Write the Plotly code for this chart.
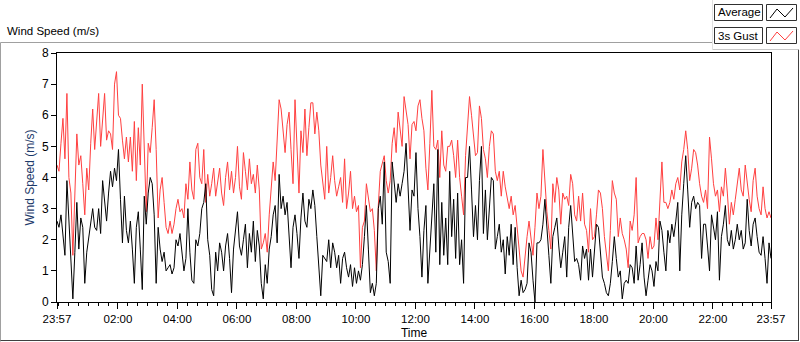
import plotly.graph_objects as go

# ---- data ----
START_MIN = -3      # 23:57 of previous day, in minutes from midnight
STEP_MIN = 4        # sampling step of the values below

gust_speed = [
    4.4, 4.2, 5.1, 5.9, 4.6, 6.7, 4.0, 3.5, 1.5, 3.2,
    5.4, 4.4, 4.7, 3.8, 2.8, 4.3, 3.6, 5.1, 6.2, 4.9,
    5.7, 6.7, 5.0, 6.0, 6.7, 5.2, 5.5, 5.4, 4.9, 7.0,
    7.4, 6.0, 5.9, 5.2, 4.6, 5.3, 4.5, 5.3, 4.2, 5.8,
    3.9, 5.6, 4.4, 7.0, 4.9, 2.9, 5.1, 4.8, 5.6, 6.5,
    4.9, 2.7, 3.6, 4.0, 3.2, 2.4, 2.2, 2.6, 2.2, 2.5,
    3.0, 3.3, 2.9, 3.0, 2.7, 3.8, 3.3, 4.5, 3.6, 3.3,
    4.9, 5.1, 4.0, 3.8, 4.9, 3.2, 4.1, 3.4, 3.8, 4.3,
    3.4, 3.9, 4.3, 3.5, 3.1, 4.0, 4.5, 3.6, 4.2, 3.5,
    4.0, 5.0, 3.7, 3.3, 4.8, 4.2, 3.6, 4.6, 3.8, 4.1,
    3.5, 4.4, 3.6, 1.7, 1.9, 2.2, 1.6, 2.8, 3.7, 4.5,
    3.9, 5.3, 6.5, 6.2, 5.4, 4.8, 5.7, 6.1, 4.9, 3.8,
    6.5, 5.1, 3.5, 5.5, 4.8, 6.2, 4.7, 5.6, 6.4, 6.4,
    5.4, 6.1, 5.5, 4.4, 3.8, 3.3, 5.0, 3.5, 4.0, 4.7,
    3.9, 3.4, 3.7, 4.0, 3.2, 4.6, 3.0, 3.5, 4.2, 3.0,
    3.4, 2.9, 3.1, 1.1, 2.4, 2.6, 3.8, 3.4, 2.9, 3.0,
    2.3, 1.0, 3.1, 4.2, 4.5, 4.7, 3.9, 3.5, 3.9, 5.1,
    5.6, 4.8, 6.1, 5.5, 5.0, 6.6, 6.1, 5.7, 4.6, 5.7,
    5.8, 5.5, 6.3, 6.5, 5.9, 5.5, 4.3, 3.6, 5.1, 6.8,
    5.0, 4.9, 5.2, 4.0, 5.5, 4.4, 4.2, 5.0, 5.0, 5.2,
    4.7, 4.0, 5.2, 4.0, 3.4, 2.8, 4.7, 5.6, 6.6, 6.0,
    5.3, 4.7, 4.8, 6.3, 5.9, 4.9, 4.6, 4.0, 5.0, 5.5,
    5.4, 4.2, 3.9, 4.2, 3.4, 4.2, 3.7, 3.4, 3.0, 3.4,
    2.8, 3.1, 2.3, 1.5, 1.0, 0.8, 1.5, 2.1, 2.6, 2.0,
    1.5,
    2.4, 3.5, 3.0, 3.4, 4.9, 3.9, 2.9, 2.3, 1.7, 3.8,
    3.2, 4.0, 3.6, 2.5, 3.5, 3.3, 3.4, 3.1, 4.1, 3.8,
    2.8, 2.6, 3.4, 2.6, 3.5, 2.5, 2.3, 1.6, 3.0, 2.0,
    2.1, 2.8, 3.6, 3.5, 3.0, 2.1, 1.5, 1.0, 2.3, 3.9,
    3.5, 3.3, 2.1, 2.7, 2.2, 2.0, 1.7, 1.1, 2.6, 2.3,
    2.8, 4.0, 1.9, 2.1, 2.2, 2.2, 2.0, 1.4, 2.1, 1.7,
    1.8, 2.7, 2.0, 3.3, 4.5, 3.2, 3.2, 3.0, 3.2, 3.6,
    3.3, 3.8, 4.0, 3.6, 4.5, 4.9, 5.5, 4.9, 3.9, 4.3,
    4.9, 4.8, 4.4, 3.8, 3.4, 3.2, 3.6, 3.0, 5.3, 4.6,
    3.8, 3.4, 3.6, 2.9, 3.7, 3.4, 4.3, 3.5, 2.5, 3.2,
    2.8, 3.3, 3.9, 4.3, 3.6, 3.4, 4.4, 3.8, 3.3, 2.9,
    3.9, 4.3, 3.4, 3.0, 2.8, 3.7, 3.0, 2.7, 2.9, 2.7,
]

avg_speed = [
    2.6, 2.4, 2.8, 2.2, 1.5, 3.9, 2.7, 1.2, 0.1, 1.6,
    3.2, 1.7, 2.7, 2.4, 0.6, 1.6, 2.1, 2.6, 3.0, 2.4,
    2.3, 3.0, 2.2, 3.9, 3.2, 2.6, 3.5, 4.2, 3.7, 4.3,
    3.9, 4.9, 3.3, 1.9, 3.4, 2.3, 1.9, 2.6, 1.7, 0.6,
    2.4, 2.9, 1.7, 0.4, 3.4, 2.5, 3.5, 4.0, 3.8, 2.8,
    0.6, 2.4, 1.7, 1.3, 1.6, 1.0, 1.1, 1.2, 0.9, 1.1,
    2.0, 1.8, 2.2, 1.6, 1.0, 1.4, 3.0, 1.6, 0.7, 0.6,
    2.0, 1.8, 2.2, 3.0, 3.2, 3.8, 2.0, 1.5, 0.4, 0.2,
    1.6, 1.0, 1.9, 1.6, 1.0, 1.8, 2.2, 1.4, 0.3, 1.7,
    2.3, 2.9, 1.8, 1.5, 2.0, 2.5, 1.1, 2.2, 1.6, 2.6,
    1.3, 2.3, 1.8, 0.6, 0.1, 1.2, 0.6, 1.7, 2.1, 2.8,
    3.1, 1.9, 4.1, 3.0, 3.4, 2.8, 3.2, 2.3, 1.1, 2.4,
    2.8, 2.2, 1.4, 2.7, 3.5, 2.6, 2.4, 3.3, 3.0, 3.6,
    3.1, 2.1, 1.2, 0.2, 1.5, 1.4, 1.3, 2.0, 1.1, 1.9,
    1.6, 1.1, 1.5, 0.6, 1.4, 1.6, 1.1, 0.8, 1.2, 0.5,
    1.1, 0.6, 1.0, 0.7, 1.2, 2.1, 3.1, 1.7, 0.3, 0.6,
    0.2, 0.6, 3.0, 3.4, 2.5, 4.5, 1.6, 1.3, 0.6, 4.5,
    3.8, 3.2, 3.8, 3.4, 3.8, 4.2, 5.1, 3.5, 2.3, 3.6,
    3.4, 4.8, 3.0, 2.1, 0.8, 2.3, 3.1, 0.6, 1.7, 3.0,
    3.8, 1.6, 4.9, 1.2, 3.2, 1.5, 2.7, 1.2, 4.2, 2.1,
    3.3, 1.4, 3.5, 1.2, 2.0, 0.6, 4.0, 4.0, 5.0, 3.6,
    2.1, 3.1, 2.0, 3.9, 5.0, 2.2, 3.6, 2.0, 3.0, 4.0,
    3.9, 1.7, 2.1, 2.5, 1.6, 2.0, 0.9, 2.1, 1.5, 2.5,
    1.2, 2.4, 1.1, 0.2, 0.7, 0.3, 0.4, 0.6, 1.9, 1.6,
    0.7,
    0.0, 1.9, 1.9, 2.0, 2.5, 3.3, 2.2, 1.5, 0.6, 2.1,
    2.4, 2.7, 1.8, 1.1, 1.6, 2.1, 0.8, 2.4, 3.1, 2.2,
    1.3, 1.4, 1.2, 0.7, 1.8, 1.4, 1.7, 0.7, 1.7, 0.8,
    1.7, 2.5, 2.4, 1.7, 0.8, 0.6, 0.3, 0.2, 0.6, 1.3,
    2.1, 1.4, 0.8, 1.0, 0.1, 0.6, 0.7, 0.6, 1.2, 1.1,
    0.6, 1.8, 0.7, 1.2, 1.9, 0.8, 0.2, 0.7, 1.2, 1.0,
    0.5, 1.3, 1.0, 2.6, 2.3, 1.6, 1.0, 2.3, 1.9, 2.5,
    2.1, 2.6, 3.2, 1.0, 2.8, 3.8, 4.7, 3.6, 2.4, 3.2,
    3.4, 3.0, 3.2, 3.1, 1.4, 2.5, 2.5, 1.8, 1.0, 2.8,
    2.4, 2.0, 2.9, 0.7, 2.1, 2.5, 3.1, 2.0, 1.8, 2.3,
    1.7, 2.0, 2.5, 2.0, 2.3, 1.7, 1.9, 3.3, 2.3, 1.8,
    2.5, 2.7, 2.1, 1.6, 1.5, 2.1, 1.4, 0.6, 1.9, 1.4,
]

tick_minutes = [-3, 120, 240, 360, 480, 600, 720, 840, 960, 1080, 1200, 1320, 1437]
tick_labels = ["23:57", "02:00", "04:00", "06:00", "08:00", "10:00", "12:00",
               "14:00", "16:00", "18:00", "20:00", "22:00", "23:57"]
y_ticks = [0, 1, 2, 3, 4, 5, 6, 7, 8]

minutes = [START_MIN + STEP_MIN * i for i in range(len(avg_speed))]

# ---- layout geometry (pixels) ----
W, H = 800, 342
L, R, T, B = 57, 771, 53, 302
FONT = "Liberation Sans"


def px(x):
    return (x - L) / (R - L)


def py(y):
    return (B - y) / (B - T)


fig = go.Figure()
fig.add_trace(go.Scatter(x=minutes, y=gust_speed, mode="lines", name="3s Gust",
                         line=dict(color="#ff4040", width=1), showlegend=False))
fig.add_trace(go.Scatter(x=minutes, y=avg_speed, mode="lines", name="Average",
                         line=dict(color="#000000", width=1), showlegend=False))


def hline(x0, x1, y, color):
    return dict(type="line", xref="paper", yref="paper", x0=px(x0), x1=px(x1),
                y0=py(y), y1=py(y), line=dict(color=color, width=1))


def vline(x, y0, y1, color):
    return dict(type="line", xref="paper", yref="paper", x0=px(x), x1=px(x),
                y0=py(y0), y1=py(y1), line=dict(color=color, width=1))


shapes = [
    # outer frame: grey top/left, dark right/bottom
    hline(0.5, 712.5, 42.5, "#a0a0a0"),
    vline(0.5, 42.5, 341.5, "#a0a0a0"),
    hline(0.5, 798.5, 340.5, "#404040"),
    vline(798.5, 49.5, 341, "#404040"),
    # legend panel
    hline(712.5, 798.5, 49.5, "#c8c8c8"),
    vline(712.5, 0, 49.5, "#e0e0e0"),
]
# legend boxes
for (y0, y1) in [(4.5, 20.5), (27.5, 43.5)]:
    shapes.append(dict(type="rect", xref="paper", yref="paper", x0=px(714.5), x1=px(762.5),
                       y0=py(y1), y1=py(y0), fillcolor="white",
                       line=dict(color="#303030", width=1)))
    shapes.append(dict(type="rect", xref="paper", yref="paper", x0=px(766.5), x1=px(796.5),
                       y0=py(y1), y1=py(y0), fillcolor="white",
                       line=dict(color="#303030", width=1)))


def zig(y_top, color):
    pts = [(770, y_top + 13), (777, y_top + 4), (785, y_top + 12), (793, y_top + 3)]
    d = "M " + " L ".join(f"{px(a)},{py(b)}" for a, b in pts)
    return dict(type="path", xref="paper", yref="paper", path=d,
                line=dict(color=color, width=1))


shapes.append(zig(5, "#000000"))
shapes.append(zig(28, "#ff4040"))

annotations = [
    dict(text="Wind Speed (m/s)", xref="paper", yref="paper", x=px(5), y=py(31),
         xanchor="left", yanchor="middle", showarrow=False,
         font=dict(family=FONT, size=11.5, color="#000000")),
    dict(text="Average", xref="paper", yref="paper", x=px(716), y=py(12.5),
         xanchor="left", yanchor="middle", showarrow=False,
         font=dict(family=FONT, size=11.5, color="#000000")),
    dict(text="3s Gust", xref="paper", yref="paper", x=px(716), y=py(35.5),
         xanchor="left", yanchor="middle", showarrow=False,
         font=dict(family=FONT, size=11.5, color="#000000")),
]

fig.update_layout(
    width=W, height=H,
    margin=dict(l=L, r=W - R, t=T, b=H - B, pad=0),
    paper_bgcolor="white", plot_bgcolor="white",
    font=dict(family=FONT, size=12, color="#000000"),
    shapes=shapes, annotations=annotations,
    showlegend=False,
    xaxis=dict(
        range=[-3, 1437], tickmode="array", tickvals=tick_minutes, ticktext=tick_labels,
        ticks="outside", ticklen=6, tickcolor="#000000", tickwidth=1,
        minor=dict(tick0=0, dtick=20, ticks="outside", ticklen=3, tickcolor="#000000"),
        showline=True, linecolor="#000000", linewidth=1, mirror=True,
        showgrid=False, zeroline=False, automargin=False,
        tickfont=dict(family=FONT, size=11.5, color="#000000"),
        title=dict(text="Time", font=dict(family=FONT, size=12, color="#000000"), standoff=4),
    ),
    yaxis=dict(
        range=[0, 8], tickmode="array", tickvals=y_ticks,
        ticks="outside", ticklen=5, tickcolor="#000000", tickwidth=1,
        showline=True, linecolor="#000000", linewidth=1, mirror=True,
        showgrid=False, zeroline=False, automargin=False,
        tickfont=dict(family=FONT, size=12, color="#000000"),
        title=dict(text="Wind Speed (m/s)", font=dict(family=FONT, size=12, color="#1d3a6a"),
                   standoff=4),
    ),
)

fig.write_html("out.html", config={"displayModeBar": False},
               post_script="document.body.style.margin='0';")
